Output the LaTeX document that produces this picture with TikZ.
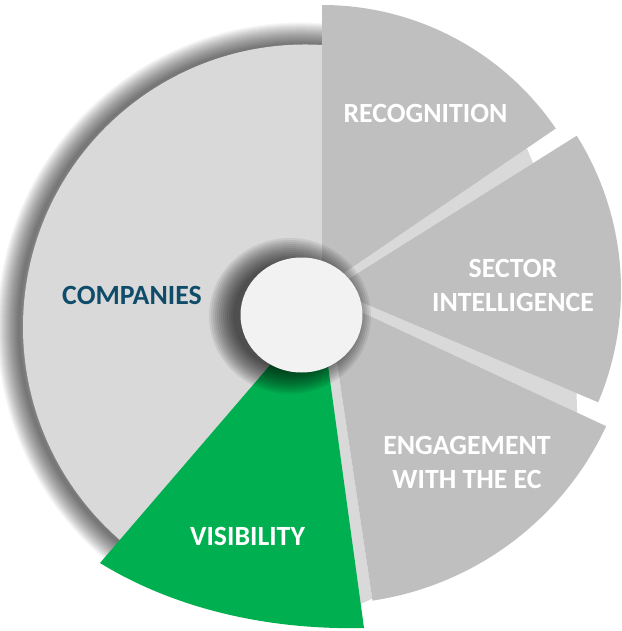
\documentclass[tikz,border=0pt]{standalone}
\usepackage{fontspec}
\setmainfont{Carlito}
\definecolor{lightgrey}{HTML}{D9D9D9}
\definecolor{midgrey}{HTML}{BFBFBF}
\definecolor{hubgrey}{HTML}{F2F2F2}
\definecolor{visgreen}{HTML}{00B050}
\definecolor{navy}{HTML}{0F4C6A}

\begin{document}
\begin{tikzpicture}[x=1pt,y=1pt]
  \tikzstyle{slicetext}=[font=\bfseries\fontsize{27.8}{34}\selectfont,text=white,align=center,inner sep=0pt]
  \tikzstyle{gapstrip}=[fill=lightgrey]
  \useasboundingbox (0,0) rectangle (621,-631);
  \fill[white] (0,0) rectangle (621,-631);

  \coordinate (hub) at (301.5,-315);
  \coordinate (compc) at (305.5,-327);
  \coordinate (comp) at (325,-307);
  \coordinate (recog) at (322,-288);
  \coordinate (sector) at (331.5,-289.6);
  \coordinate (engage) at (327,-296);
  \coordinate (visib) at (320,-307);

  % light sides between the slices
  \fill[gapstrip] (recog) -- ++(34.3:248) -- ([shift={(32.1:238)}]sector) -- (sector) -- cycle;
  \fill[gapstrip] (sector) -- ++(-22.9:266) -- ([shift={(-25:276)}]engage) -- (engage) -- cycle;
  \fill[gapstrip] (visib) -- ++(277.7:300) -- ([shift={(-81.5:306)}]engage) -- (engage) -- cycle;

  \foreach \w in {2,4,...,44}
    \draw[black,opacity=0.033,line width=\w] (compc) ++(-4,0) ++(80:282.5) arc[start angle=80,end angle=235,radius=282.5];
  \fill[lightgrey] (comp) -- ([shift={(86:282.5)}]compc) arc[start angle=86,end angle=232,radius=282.5] -- cycle;

  \fill[midgrey] (recog) -- ++(34.3:283) arc[start angle=34.3,end angle=90,radius=283] -- cycle;
  \fill[midgrey] (sector) -- ++(-22.9:289.5) arc[start angle=-22.9,end angle=32.1,radius=289.5] -- cycle;
  \fill[midgrey] (engage) -- ++(-81.5:308) arc[start angle=-81.5,end angle=-25,radius=308] -- cycle;
  \fill[visgreen] (visib) -- (100,-563) .. controls (180,-612) and (275,-630) .. (364,-628) -- cycle;

  \foreach \r in {2,4,...,26}
    \fill[black,opacity=0.07] (290,-316) ellipse[x radius=55+\r,y radius=52+\r];
  \fill[hubgrey] (hub) ellipse[x radius=61,y radius=57.5];

  \node[slicetext] (recognition) at (425.5,-113) {RECOGNITION};
  \node[slicetext] (sectorint) at (513,-285.5) {SECTOR\\INTELLIGENCE};
  \node[slicetext] (engagement) at (467,-462.5) {ENGAGEMENT\\WITH THE EC};
  \node[slicetext] (visibility) at (247.5,-536) {VISIBILITY};
  \node[slicetext,text=navy] (companies) at (132,-295) {COMPANIES};
\end{tikzpicture}
\end{document}
